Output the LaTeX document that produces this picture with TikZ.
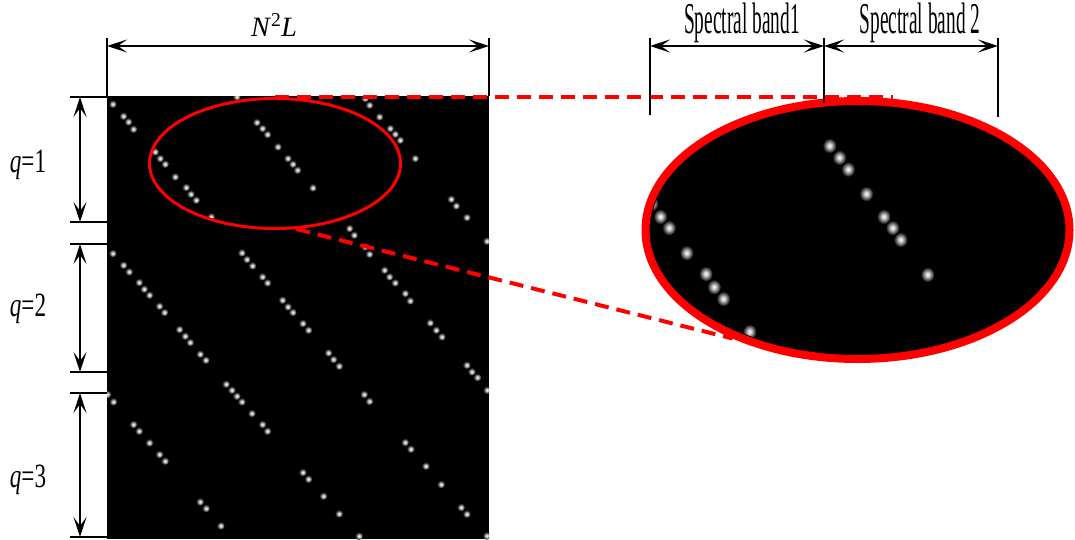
\documentclass[tikz,border=0pt]{standalone}
\usepackage{fontspec}
\setmainfont{Liberation Serif}
\newfontfamily\bandfont[FakeStretch=0.44]{Liberation Serif}
\newfontfamily\qfont[FakeStretch=0.68]{Liberation Serif}
\usetikzlibrary{arrows.meta,positioning,calc,shapes.geometric}

% glow of one bright spot
\pgfdeclareradialshading{glow}{\pgfpoint{0bp}{0bp}}{color(0bp)=(white); color(7bp)=(white!80!black);
  color(25bp)=(black); color(50bp)=(black)}

% bright spots of the sampling image (pixel coordinates)
\newcommand\spotlist{112.7/104, 123.3/116, 128.3/121.7, 133.3/129, 155/151.7, 160/158.3, 165/164,
  175/176.7, 186/187.3, 190.7/194, 196/200, 211/216.7, 236.7/96.7, 256.7/122.3, 262.3/128.3,
  267.3/134.3, 277.7/146.7, 287.7/158.3, 292.7/164, 297.3/170, 312.7/187.7, 365/98.3, 369.3/105,
  379.3/116.7, 390/128.3, 395/134, 400/140, 415/158.3, 451/199, 456/205.7, 466.7/217.3, 486.7/241,
  349.3/228.3, 354/235, 365/246.7, 369.3/254, 384.3/270, 389.3/276.7, 395/282.7, 405/293.3,
  410/300.7, 430/322.7, 436/330, 441.7/336.7, 466.7/365, 471.7/371.7, 477.3/377.3, 487/390,
  292.7/312.2, 302.7/323.3, 308.3/330, 328.3/352.7, 333.3/359.3, 339/366, 364/394.3, 369.3/401.2,
  112.7/253.3, 123.3/265, 129/271.7, 139/282.3, 144/289, 149.3/295, 159.3/306, 164.3/312.3,
  179.3/329.3, 185/336, 190/342.3, 200/354, 205.7/360, 226/384, 231.7/390, 236.7/396,
  241.7/252.7, 246.7/259.3, 252.3/265.7, 262.3/276.7, 267.3/282.7, 282.3/300, 287.7/306.7,
  107.3/394.3, 113.3/401.7, 133.3/424.3, 139/431, 149.3/442.7, 159.3/454.3, 165/461,
  200/501.7, 206/508.3, 220.7/525.7, 241.7/401.7, 251.7/413.3, 262.3/424.3, 267.3/431,
  405/442.3, 410.7/449, 425.7/466, 441/484.3, 461/507.3, 466.7/514, 486.7/535.7,
  302.7/472.3, 308.3/479, 323.3/496, 339/513.7, 359/536}

\begin{document}
\begin{tikzpicture}[x=1pt, y=-1pt,
    dimtip/.tip={Stealth[length=20pt, width=13pt, inset=9pt]},
    dimline/.style={dimtip-dimtip, line width=1.3pt},
    extline/.style={line width=1.2pt},
    zoomline/.style={red, line width=4pt, dash pattern=on 14pt off 8pt},
    spot/.style={shading=glow},
    bandlbl/.style={font=\bandfont\fontsize{44}{44}\selectfont, inner sep=0pt},
    qlbl/.style={font=\qfont\fontsize{34}{34}\selectfont, inner sep=0pt}
]
\useasboundingbox (0,0) rectangle (1075,539);

% Sampling image
\node[fill=black, minimum width=382pt, minimum height=443pt, inner sep=0pt, outer sep=0pt,
    anchor=north west] (img) at (107,96) {};
\begin{scope}
    \clip (img.south west) rectangle (img.north east);
    \foreach \x/\y in \spotlist
        \shade[spot] (\x,\y) circle (4pt);
\end{scope}

% Zoomed view
\node[ellipse, draw=red, line width=8pt, fill=black, minimum width=424pt, minimum height=258pt,
    inner sep=0pt] (zoomview) at (857.5,230) {};
\begin{scope}
    \clip (zoomview.center) ellipse (207pt and 124pt);
    \foreach \x/\y in \spotlist
        \shade[spot] ({861.5+1.75*(\x-275)},{226.8+1.97*(\y-163.5)}) ellipse (7pt and 7.6pt);
\end{scope}

% Selected region
\node[ellipse, draw=red, line width=3pt, minimum width=251pt, minimum height=130pt,
    inner sep=0pt] (zoomsrc) at (275,163.5) {};

\coordinate (dashend) at (893,97);
\draw[zoomline] (zoomsrc.north) -- (zoomsrc.north -| dashend);
\draw[zoomline] (zoomsrc.-72) -- (zoomview.-139);

% N^2L dimension
\coordinate (dimtop) at (0,38);
\coordinate (dimarr) at (0,46);
\draw[extline] (img.north west) -- (img.north west |- dimtop);
\draw[extline] (img.north east) -- (img.north east |- dimtop);
\draw[dimline] (img.north west |- dimarr) -- (img.north east |- dimarr);
\node[font=\fontsize{28}{28}\selectfont, inner sep=0pt] (nlab) at (274,25)
    {\textit{N}\textsuperscript{2}\textit{L}};

% q dimensions
\foreach \q/\top/\bot/\ly in {1/97/222/165, 2/244/372/309, 3/393/537/480} {
    \coordinate (q\q t) at (80,\top);
    \coordinate (q\q b) at (80,\bot);
    \draw[extline] ([xshift=-10pt]q\q t) -- (img.west |- q\q t);
    \draw[extline] ([xshift=-10pt]q\q b) -- (img.west |- q\q b);
    \draw[dimline] (q\q t) -- (q\q b);
    \node[qlbl] (qlab\q) at (28,\ly) {\textit{q}=\q};
}

% Spectral bands
\coordinate (band0) at (650,115);
\coordinate (band1) at (824,103);
\coordinate (band2) at (998,117);
\draw[extline] (band0) -- (band0 |- dimtop);
\draw[line width=2.6pt] (band1) -- (band1 |- dimtop);
\draw[extline] (band2) -- (band2 |- dimtop);
\draw[dimline] (band0 |- dimarr) -- (band1 |- dimarr);
\draw[dimline] (band1 |- dimarr) -- (band2 |- dimarr);
\node[bandlbl] (band1lab) at (742,23) {Spectral band1};
\node[bandlbl] (band2lab) at (920,23) {Spectral band 2};

\end{tikzpicture}
\end{document}
